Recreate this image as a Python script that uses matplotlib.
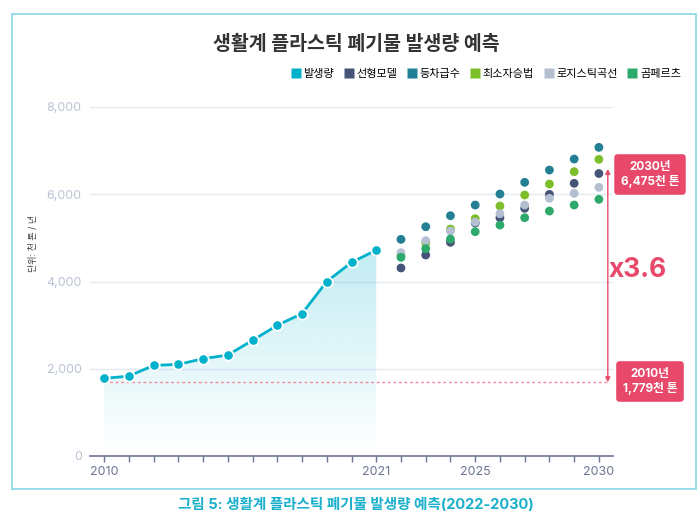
import numpy as np
import matplotlib
matplotlib.use('Agg')
import matplotlib.pyplot as plt
from matplotlib.patches import Polygon, Rectangle
from matplotlib.lines import Line2D

plt.rcParams['font.family'] = ['Inter', 'Noto Sans CJK KR', 'DejaVu Sans']

# data (천 톤 / 년)
years_hist = list(range(2010, 2022))
hist = [1779, 1831, 2077, 2100, 2230, 2314, 2651, 2996, 3264, 4000, 4437, 4720]

years_fc = list(range(2022, 2031))
linear = [4310, 4607, 4898, 5340, 5462, 5677, 5998, 6250, 6475]
arith = [4966, 5256, 5508, 5753, 6005, 6273, 6555, 6807, 7075]
lsq = [4600, 4880, 5203, 5440, 5730, 5982, 6234, 6517, 6800]
logistic = [4660, 4935, 5157, 5363, 5554, 5753, 5906, 6021, 6159]
gompertz = [4554, 4752, 4974, 5141, 5294, 5462, 5615, 5753, 5884]

series_names = ['발생량', '선형모델', '등차급수', '최소자승법', '로지스틱곡선', '곰페르츠']
colors = ['#00B1CB', '#455477', '#237F94', '#7CBF2A', '#B4C0D2', '#2DAA6B']

x_labels = {2010: '2010', 2021: '2021', 2025: '2025', 2030: '2030'}
y_ticks = [0, 2000, 4000, 6000, 8000]

ref_line = 1690      # dotted baseline drawn under the 2010 point
arrow_top = 6580
red = '#E8496B'

fig = plt.figure(figsize=(7, 5.18), dpi=100)
ax = fig.add_axes([90 / 700, 1 - 456 / 518, 523 / 700, 349 / 518])

# frame around the chart
fig.patches.append(Rectangle((12 / 700, 1 - 489 / 518), 684 / 700, 475 / 518,
                             transform=fig.transFigure, fill=False,
                             edgecolor='#86D7E6', linewidth=1.2))

ax.set_xlim(2009.43, 2030.57)
ax.set_ylim(0, 8000)

# grid
for yv in y_ticks[1:]:
    ax.axhline(yv, color='#E5E9F0', linewidth=1, zorder=0)

# gradient area under history
grad = np.linspace(0, 0.24, 256).reshape(-1, 1)
rgba = np.zeros((256, 1, 4))
rgba[..., 0] = 0 / 255
rgba[..., 1] = 177 / 255
rgba[..., 2] = 203 / 255
rgba[..., 3] = grad
im = ax.imshow(rgba, extent=[years_hist[0], years_hist[-1], 0, max(hist)],
               origin='lower', aspect='auto', zorder=1)
verts = [(years_hist[0], 0)] + list(zip(years_hist, hist)) + [(years_hist[-1], 0)]
poly = Polygon(verts, closed=True, facecolor='none', edgecolor='none')
ax.add_patch(poly)
im.set_clip_path(poly)

# dotted baseline
ax.plot([2010, 2030.36], [ref_line, ref_line], color='#F08AA0', linewidth=1,
        linestyle=(0, (2, 2)), zorder=2)

# history line
ax.plot(years_hist, hist, color=colors[0], linewidth=2, marker='o', markersize=7.5,
        markerfacecolor=colors[0], markeredgecolor='white', markeredgewidth=1.3, zorder=4)

# forecasts
for vals, c in zip([linear, arith, lsq, logistic, gompertz], colors[1:]):
    ax.scatter(years_fc, vals, s=40, color=c, edgecolor='none', zorder=5)

# arrow
ax.annotate('', xy=(2030.36, arrow_top), xytext=(2030.36, ref_line),
            arrowprops=dict(arrowstyle='<|-|>', color=red, lw=1,
                            mutation_scale=7, shrinkA=0, shrinkB=0),
            annotation_clip=False, zorder=6)

# axes styling
for s in ['top', 'right', 'left']:
    ax.spines[s].set_visible(False)
ax.spines['bottom'].set_color('#6B7591')
ax.spines['bottom'].set_linewidth(1.2)
all_years = list(range(2010, 2031))
ax.set_xticks(all_years)
ax.set_xticklabels([x_labels.get(y, '') for y in all_years])
ax.tick_params(axis='x', direction='out', length=4, width=1, color='#6B7591',
               labelcolor='#6B7591', labelsize=9, pad=3)
ax.set_yticks(y_ticks)
ax.set_yticklabels([f'{v:,}' for v in y_ticks])
ax.tick_params(axis='y', length=0, labelcolor='#B8C3D4', labelsize=9, pad=6)

# texts
fig.text(356 / 700, 1 - 44 / 518, '생활계 플라스틱 폐기물 발생량 예측', ha='center', va='center',
         fontsize=14, fontweight='bold', color='#333333')
fig.text(33 / 700, 1 - 243 / 518, '단위: 천 톤 / 년', rotation=90, ha='center', va='center',
         fontsize=6.5, color='#444444')
fig.text(356 / 700, 1 - 505 / 518, '그림 5: 생활계 플라스틱 폐기물 발생량 예측(2022-2030)',
         ha='center', va='center', fontsize=10.5, fontweight='bold', color='#1AAFCB')

box = dict(boxstyle='round,pad=0.55,rounding_size=0.3', facecolor=red, edgecolor='none')
fig.text(650 / 700, 1 - 174.5 / 518, '2030년\n6,475천 톤', ha='center', va='center',
         fontsize=8.5, fontweight='bold', color='white', linespacing=1.25, bbox=box)
fig.text(650 / 700, 1 - 381.5 / 518, '2010년\n1,779천 톤', ha='center', va='center',
         fontsize=8.5, fontweight='bold', color='white', linespacing=1.25, bbox=box)
fig.text(638 / 700, 1 - 270 / 518, 'x3.6', ha='center', va='center',
         fontsize=19, fontweight='bold', color=red)

# legend
handles = [Line2D([], [], marker='s', linestyle='none', markersize=7,
                  markerfacecolor=c, markeredgecolor='none') for c in colors]
fig.legend(handles, series_names, loc='center right', bbox_to_anchor=(681 / 700, 1 - 74 / 518),
           ncol=6, frameon=False, fontsize=8, handlelength=0.8, handletextpad=0.3,
           columnspacing=0.9, borderaxespad=0, borderpad=0)

fig.savefig('out.png', dpi=100)
